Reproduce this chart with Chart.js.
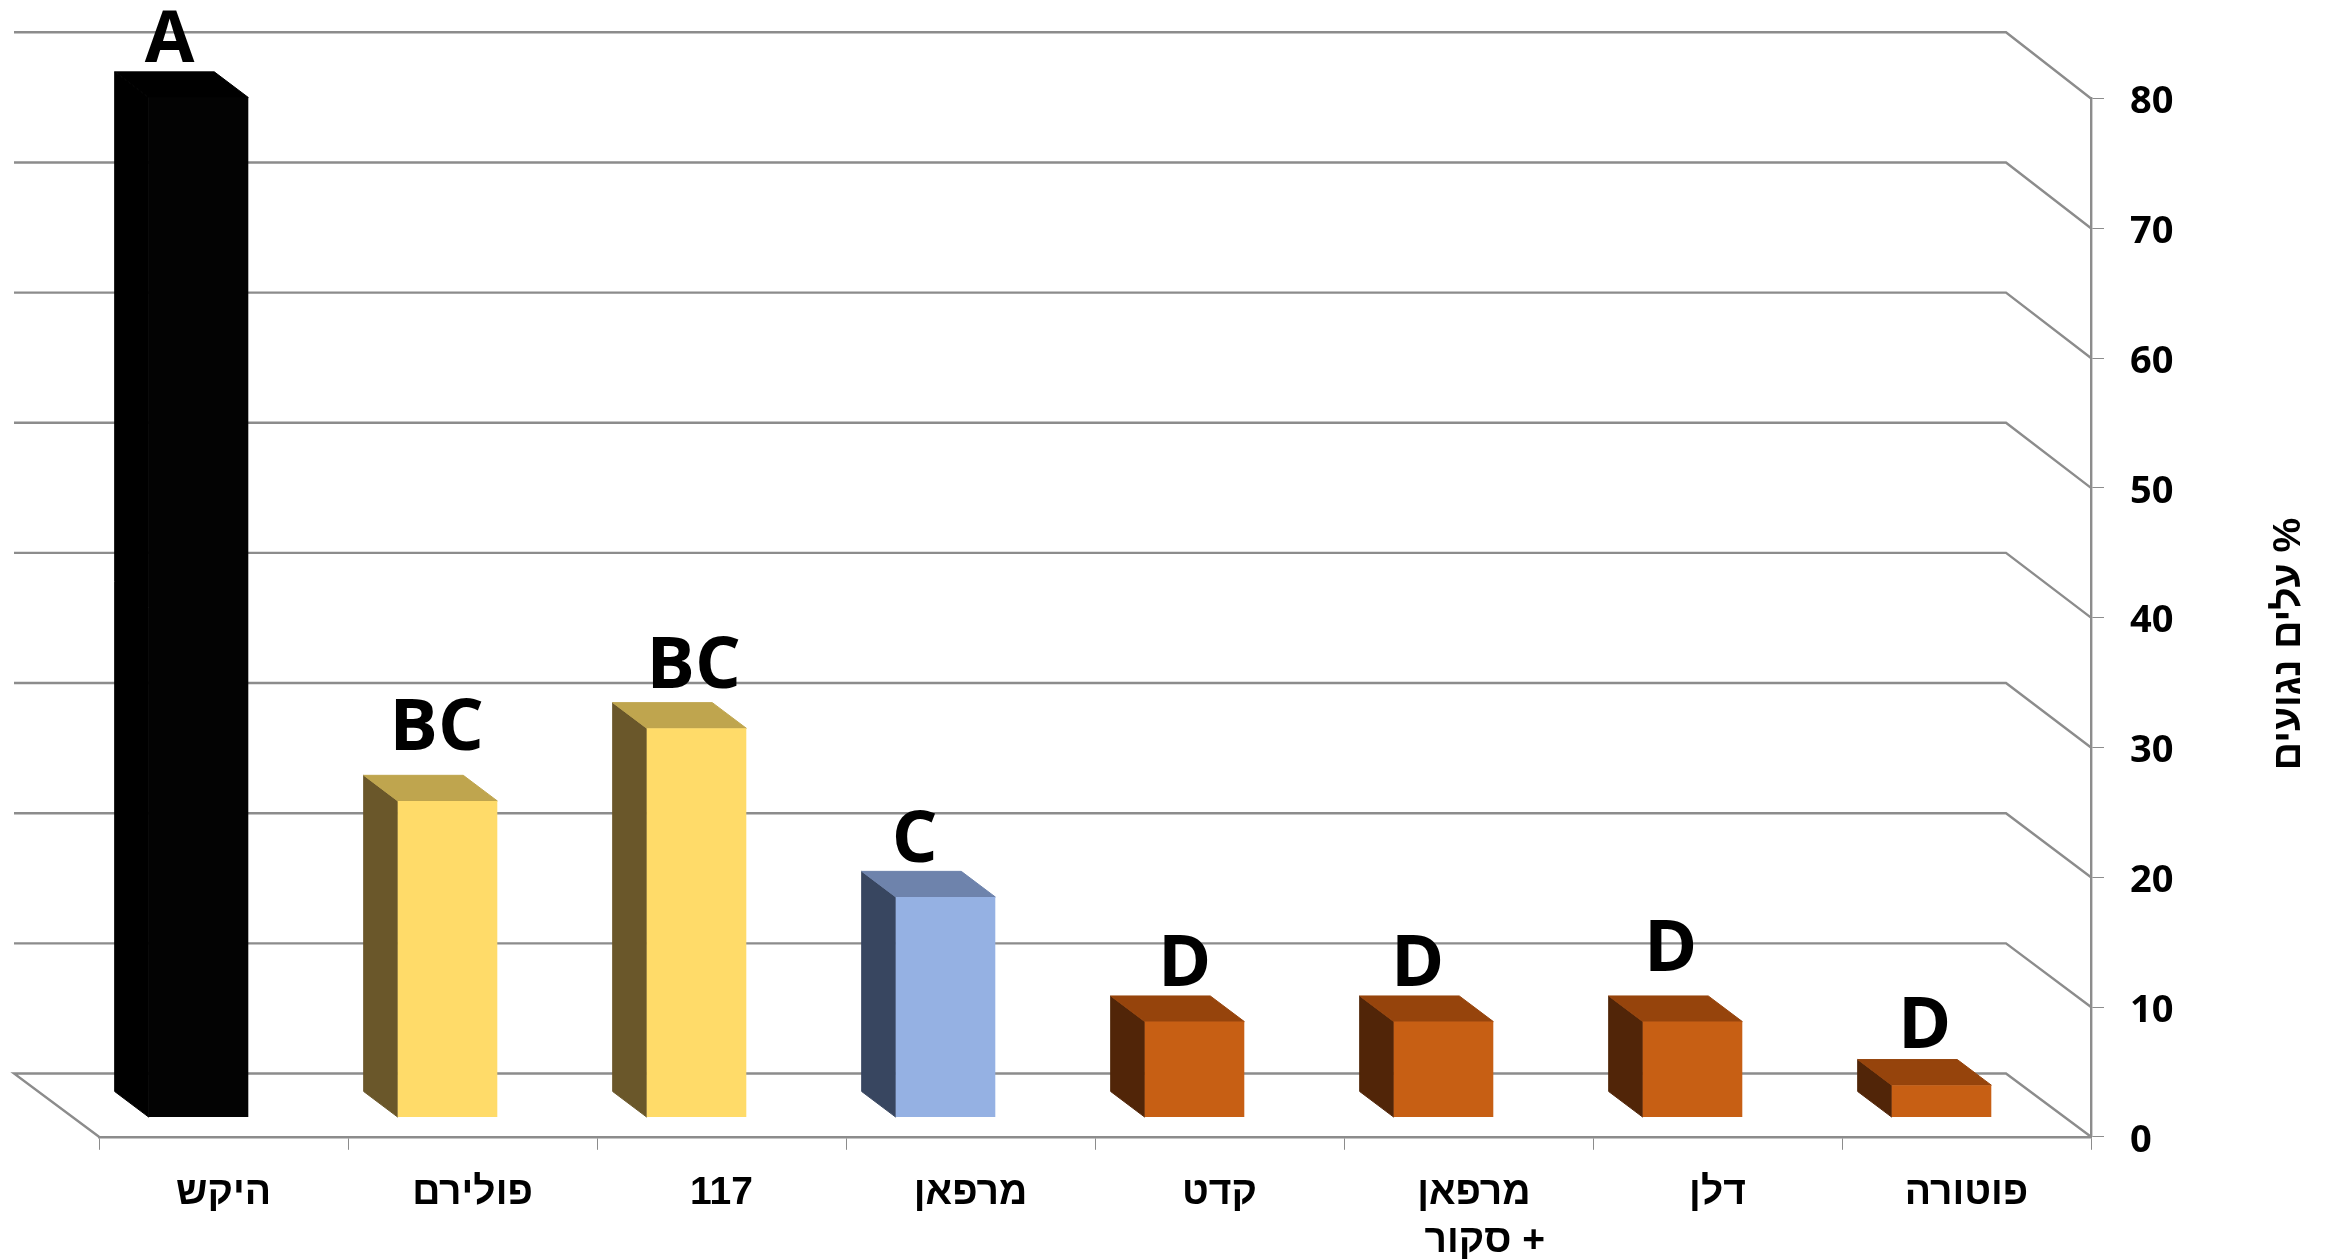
<!DOCTYPE html>
<html>
<head>
<meta charset="utf-8">
<title>% עלים נגועים</title>
<script src="https://cdn.jsdelivr.net/npm/chart.js@4"></script>
<style>
    html, body { margin: 0; padding: 0; background: #fff; }
    canvas { display: block; }
</style>
</head>
<body>
<canvas id="damageChart" width="2333" height="1260" dir="rtl"></canvas>
<script>
// trailing spaces nudge the two line label to the right, it is off centre in the original
var categories = ['היקש', 'פולירם', '117', 'מרפאן', 'קדט', ['מרפאן ', '+ סקור   '], 'דלן', 'פוטורה'];
var damagedLeaves = [78.6, 24.4, 30, 17, 7.4, 7.4, 7.4, 2.5];
var letters = ['A', 'BC', 'BC', 'C', 'D', 'D', 'D', 'D'];
var axisTitle = '% עלים נגועים';

var frontColors = ['#030303', '#ffdb69', '#ffdb69', '#95b1e3', '#c75f14', '#c75f14', '#c75f14', '#c75f14'];
var sideColors = ['#000000', '#6a572a', '#6a572a', '#384660', '#512508', '#512508', '#512508', '#512508'];
var topColors = ['#000000', '#bfa54e', '#bfa54e', '#6e83ac', '#96440c', '#96440c', '#96440c', '#96440c'];

// hand placed in the original, so each letter has its own nudge from the bar top
var letterNudgeX = [0, 18, 26, -2, 19, 3, 7, 12];
var letterGap = [10, 25, 15, 9, 10, 10, 25, 12];

var gridColor = '#8c8c8c';
var wall = { dx: -85, dy: -63.3, stretch: 1.0028 };   // front of the floor to the back wall
var barShift = { dx: -25, dy: -19.2 };   // front face of the bars sits off the front edge
var barDepth = { dx: -34, dy: -25.6 };

function fillFace(ctx, color, points) {
    ctx.fillStyle = color;
    ctx.strokeStyle = color;
    ctx.lineWidth = 1;
    ctx.beginPath();
    points.forEach(function (p, i) {
        if (i === 0) ctx.moveTo(p[0], p[1]); else ctx.lineTo(p[0], p[1]);
    });
    ctx.closePath();
    ctx.fill();
    ctx.stroke();
}

var box3d = {
    id: 'box3d',
    beforeDatasetsDraw: function (chart) {
        // back wall gridlines with the slanted bit down to the axis
        var ctx = chart.ctx, area = chart.chartArea, y = chart.scales.y;
        ctx.save();
        ctx.strokeStyle = gridColor;
        ctx.lineWidth = 2.4;
        y.ticks.forEach(function (tick) {
            var py = y.getPixelForValue(tick.value);
            var backY = area.bottom + wall.dy + (py - area.bottom) * wall.stretch;
            ctx.beginPath();
            if (tick.value === 0) {
                ctx.moveTo(area.left, py);
                ctx.lineTo(area.left + wall.dx, backY);
            } else {
                ctx.moveTo(area.left + wall.dx, backY);
            }
            ctx.lineTo(area.right + wall.dx, backY);
            ctx.lineTo(area.right, py);
            ctx.stroke();
        });
        ctx.restore();
    },
    beforeDatasetDraw: function (chart, args) {
        var ctx = chart.ctx;
        ctx.save();
        ctx.translate(barShift.dx, barShift.dy);
        args.meta.data.forEach(function (bar, i) {
            var left = bar.x - bar.width / 2, right = bar.x + bar.width / 2;
            fillFace(ctx, sideColors[i], [
                [left, bar.base],
                [left, bar.y],
                [left + barDepth.dx, bar.y + barDepth.dy],
                [left + barDepth.dx, bar.base + barDepth.dy]
            ]);
            fillFace(ctx, topColors[i], [
                [left, bar.y],
                [right, bar.y],
                [right + barDepth.dx, bar.y + barDepth.dy],
                [left + barDepth.dx, bar.y + barDepth.dy]
            ]);
        });
        // left translated so the library's own bars land on the front face
    },
    afterDatasetDraw: function (chart) {
        chart.ctx.restore();
    },
    afterDatasetsDraw: function (chart) {
        var ctx = chart.ctx, meta = chart.getDatasetMeta(0);
        ctx.save();
        ctx.fillStyle = '#000';
        ctx.font = 'bold 72px "Open Sans"';
        ctx.textAlign = 'center';
        ctx.textBaseline = 'alphabetic';
        ctx.direction = 'ltr';
        meta.data.forEach(function (bar, i) {
            var backLeft = bar.x - bar.width / 2 + barShift.dx + barDepth.dx;
            var top = bar.y + barShift.dy + barDepth.dy;
            ctx.fillText(letters[i], backLeft + 55 + letterNudgeX[i], top - letterGap[i]);
        });
        ctx.restore();

        // the value axis title reads bottom-to-top, the built in title on a right axis would not
        ctx.save();
        ctx.translate(2289, 644);
        ctx.rotate(-Math.PI / 2);
        ctx.direction = 'rtl';
        ctx.textAlign = 'center';
        ctx.textBaseline = 'middle';
        ctx.fillStyle = '#000';
        ctx.font = 'bold 39px "Liberation Sans"';
        ctx.fillText(axisTitle, 0, 0);
        ctx.restore();
    }
};

var ctx = document.getElementById('damageChart').getContext('2d');
var damageChart = new Chart(ctx, {
    type: 'bar',
    data: {
        labels: categories,
        datasets: [
            {
                label: axisTitle,
                data: damagedLeaves,
                backgroundColor: frontColors,
                borderWidth: 0,
                categoryPercentage: 1,
                barPercentage: 0.4
            }
        ]
    },
    plugins: [box3d],
    options: {
        responsive: false,
        animation: false,
        layout: { padding: { left: 99, top: 98.5, right: 0, bottom: 0 } },
        plugins: {
            legend: { display: false },
            tooltip: { enabled: false }
        },
        scales: {
            x: {
                afterFit: function (scale) { scale.height = 123.2; },
                border: { color: gridColor, width: 2.4 },
                grid: { drawOnChartArea: false, tickLength: 13, color: '#8c8c8c', lineWidth: 1 },
                ticks: {
                    maxRotation: 0,
                    autoSkip: false,
                    padding: 20,
                    color: '#000',
                    font: { family: '"Liberation Sans"', weight: 'bold', size: 39, lineHeight: 1.22 }
                }
            },
            y: {
                position: 'right',
                min: 0,
                max: 80,
                afterFit: function (scale) { scale.width = 242; },
                border: { color: gridColor, width: 2.4 },
                grid: { drawOnChartArea: false, tickLength: 13, color: '#8c8c8c', lineWidth: 1 },
                ticks: {
                    stepSize: 10,
                    padding: 26,
                    labelOffset: 4,
                    color: '#000',
                    font: { family: '"Open Sans"', weight: 'bold', size: 38 }
                }
            }
        }
    }
});
</script>
</body>
</html>
